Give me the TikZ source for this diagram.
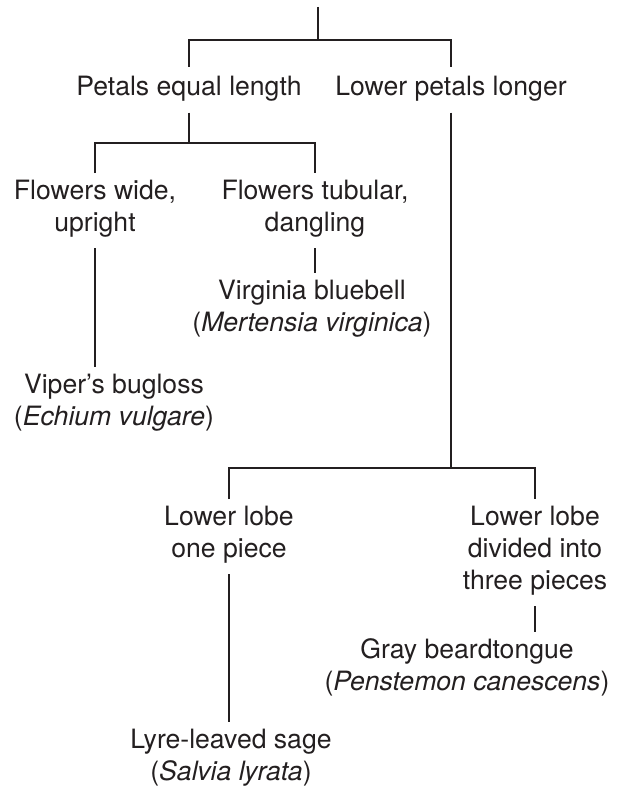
\documentclass[tikz,border=0pt]{standalone}
\usepackage{fontspec}
\setmainfont{TeX Gyre Heros}
\definecolor{ink}{HTML}{231F20}
\begin{document}
\begin{tikzpicture}[x=1pt,y=-1pt,
  lbl/.style={align=center,inner sep=0pt,outer sep=7pt,text=ink,
    font=\fontsize{26.6}{32}\selectfont,
    execute at begin node=\strut, execute at end node=\strut},
  conn/.style={draw=ink,line width=2pt}]
\useasboundingbox (0,0) rectangle (621,789);
\node[lbl] (pel) at (189,89.6) {Petals equal length};
\node[lbl] (lpl) at (451,89.6) {Lower petals longer};
\node[lbl] (fwu) at (95,210.6) {Flowers wide,\\upright};
\node[lbl] (ftd) at (315,210.6) {Flowers tubular,\\dangling};
\node[lbl] (vb) at (312,310.6) {Virginia bluebell\\(\textit{Mertensia virginica})};
\node[lbl] (vip) at (114,404.6) {Viper’s bugloss\\(\textit{Echium vulgare})};
\node[lbl] (llo) at (229,536.6) {Lower lobe\\one piece};
\node[lbl] (lld) at (535,552.6) {Lower lobe\\divided into\\three pieces};
\node[lbl] (gb) at (467,669.6) {Gray beardtongue\\(\textit{Penstemon canescens})};
\node[lbl] (lls) at (231,759.6) {Lyre-leaved sage\\(\textit{Salvia lyrata})};
\coordinate (top) at (318,7);
\coordinate (j1) at (318,40);
\coordinate (j2) at (189,143);
\coordinate (j3) at (451,468);
\draw[conn] (top) -- (j1);
\draw[conn] (pel.north) |- (j1) -| (lpl.north);
\draw[conn] (pel.south) -- (j2);
\draw[conn] (fwu.north) |- (j2) -| (ftd.north);
\draw[conn] (ftd.south) -- (ftd.south |- vb.north);
\draw[conn] (fwu.south) -- (fwu.south |- vip.north);
\draw[conn] (lpl.south) -- (j3);
\draw[conn] (llo.north) |- (j3) -| (lld.north);
\draw[conn] (llo.south) -- (llo.south |- lls.north);
\draw[conn] (lld.south) -- (lld.south |- gb.north);
\end{tikzpicture}
\end{document}
